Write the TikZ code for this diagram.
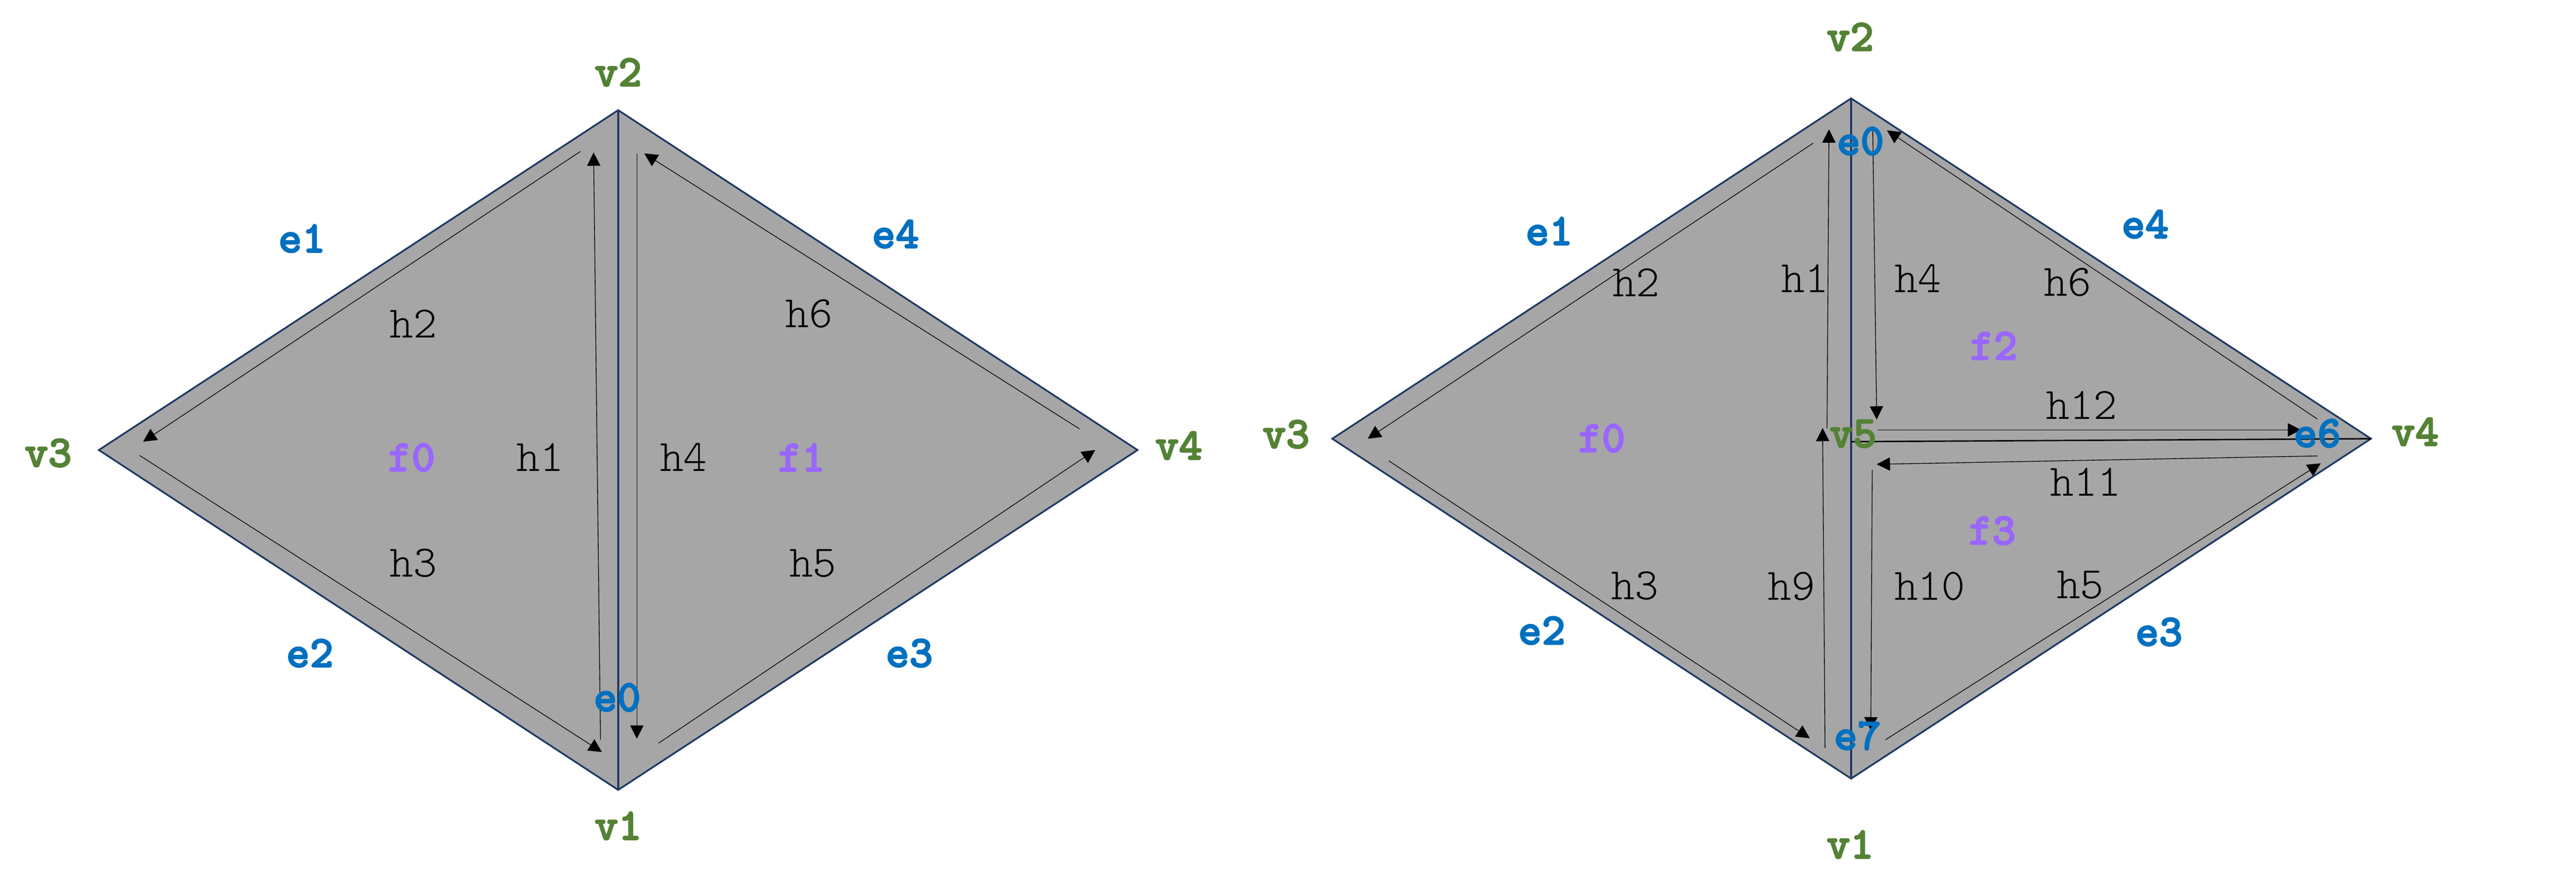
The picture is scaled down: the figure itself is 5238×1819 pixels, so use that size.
\documentclass[tikz,border=0pt]{standalone}
\usepackage{fontspec}
\usepackage{xcolor}
\usepackage{tikz}
\usetikzlibrary{arrows.meta}
\newfontfamily\hfont{lmmonolt10-regular.otf}
\newfontfamily\labfont{lmmonolt10-bold.otf}[FakeBold = 2.5]

\definecolor{vgreen}{HTML}{548235}
\definecolor{eblue}{HTML}{0070C0}
\definecolor{fpurple}{HTML}{9966FF}
\definecolor{facegray}{HTML}{A6A6A6}
\definecolor{edgenavy}{HTML}{1F3864}

\begin{document}
\begin{tikzpicture}[
  x = 0.01cm, y = -0.01cm,
  every node/.style = {inner sep = 0pt, font = \hfont\fontsize{26}{26}\selectfont},
  vlab/.style = {text = vgreen, font = \labfont\fontsize{26}{26}\selectfont},
  elab/.style = {text = eblue, font = \labfont\fontsize{26}{26}\selectfont},
  flab/.style = {text = fpurple, font = \labfont\fontsize{26}{26}\selectfont},
  hlab/.style = {text = black},
  face/.style = {fill = facegray, draw = edgenavy, line width = 1pt},
  edge/.style = {draw = edgenavy, line width = 1pt},
  half/.style = {draw = black, line width = 0.4pt,
                 -{Triangle[width = 0.27cm, length = 0.27cm]}}
  ]
  \useasboundingbox (0,0) rectangle (5238,1819);

  % left mesh
  \coordinate (L1) at (1257,1606);
  \coordinate (L2) at (1257,224);
  \coordinate (L3) at (201,915);
  \coordinate (L4) at (2313,915);
  \path[face] (L2) -- (L3) -- (L1) -- (L4) -- cycle;
  \draw[edge] (L2) -- (L1);

  \coordinate (Lh1a) at (1221,1504); \coordinate (Lh1b) at (1207,310);
  \coordinate (Lh4a) at (1295,312);  \coordinate (Lh4b) at (1295,1502);
  \coordinate (Lh2a) at (1180,308);  \coordinate (Lh2b) at (291,898);
  \coordinate (Lh3a) at (284,926);   \coordinate (Lh3b) at (1224,1529);
  \coordinate (Lh5a) at (1339,1511); \coordinate (Lh5b) at (2227,915);
  \coordinate (Lh6a) at (2195,872);  \coordinate (Lh6b) at (1310,312);
  \foreach \h in {1,2,3,4,5,6}
    \draw[half] (Lh\h a) -- (Lh\h b);

  \node[vlab] (lv1) at (1257,1679) {v1};
  \node[vlab] (lv2) at (1257,147) {v2};
  \node[vlab] (lv3) at (98,921) {v3};
  \node[vlab] (lv4) at (2397,906) {v4};
  \node[elab] (le0) at (1255,1418) {e0};
  \node[elab] (le1) at (614,485) {e1};
  \node[elab] (le2) at (630,1328) {e2};
  \node[elab] (le3) at (1849,1328) {e3};
  \node[elab] (le4) at (1821,476) {e4};
  \node[flab] (lf0) at (837,930) {f0};
  \node[flab] (lf1) at (1630,930) {f1};
  \node[hlab] (lh1) at (1098,930) {h1};
  \node[hlab] (lh2) at (841,658) {h2};
  \node[hlab] (lh3) at (841,1145) {h3};
  \node[hlab] (lh4) at (1390,930) {h4};
  \node[hlab] (lh5) at (1653,1145) {h5};
  \node[hlab] (lh6) at (1645,638) {h6};

  % right mesh, split
  \coordinate (R1) at (3764,1583);
  \coordinate (R2) at (3764,200);
  \coordinate (R3) at (2709,892);
  \coordinate (R4) at (4821,892);
  \coordinate (R5) at (3764,898);
  \path[face] (R2) -- (R3) -- (R1) -- (R4) -- cycle;
  \draw[edge] (R2) -- (R1);
  \draw[line width = 0.8pt] (R5) -- (R4);

  \coordinate (Rh1a) at (3715,871);  \coordinate (Rh1b) at (3719,263);
  \coordinate (Rh2a) at (3687,291);  \coordinate (Rh2b) at (2781,892);
  \coordinate (Rh3a) at (2824,937);  \coordinate (Rh3b) at (3680,1501);
  \coordinate (Rh4a) at (3808,265);  \coordinate (Rh4b) at (3816,853);
  \coordinate (Rh5a) at (3834,1504); \coordinate (Rh5b) at (4719,942);
  \coordinate (Rh6a) at (4712,852);  \coordinate (Rh6b) at (3837,265);
  \coordinate (Rh9a) at (3711,1521); \coordinate (Rh9b) at (3706,870);
  \coordinate (Rh10a) at (3807,955); \coordinate (Rh10b) at (3804,1485);
  \coordinate (Rh11a) at (4712,927); \coordinate (Rh11b) at (3816,944);
  \coordinate (Rh12a) at (3818,874); \coordinate (Rh12b) at (4679,874);
  \foreach \h in {1,2,3,4,5,6,9,10,11,12}
    \draw[half] (Rh\h a) -- (Rh\h b);

  \node[vlab] (rv1) at (3762,1717) {v1};
  \node[vlab] (rv2) at (3762,75) {v2};
  \node[vlab] (rv3) at (2615,883) {v3};
  \node[vlab] (rv4) at (4911,878) {v4};
  \node[vlab] (rv5) at (3768,882) {v5};
  \node[elab] (re0) at (3783,287) {e0};
  \node[elab] (re1) at (3150,470) {e1};
  \node[elab] (re2) at (3135,1282) {e2};
  \node[elab] (re3) at (4390,1285) {e3};
  \node[elab] (re4) at (4362,456) {e4};
  \node[elab] (re6) at (4712,881) {e6};
  \node[elab] (re7) at (3777,1496) {e7};
  \node[flab] (rf0) at (3257,891) {f0};
  \node[flab] (rf2) at (4054,703) {f2};
  \node[flab] (rf3) at (4051,1079) {f3};
  \node[hlab] (rh1) at (3670,566) {h1};
  \node[hlab] (rh2) at (3327,574) {h2};
  \node[hlab] (rh3) at (3324,1191) {h3};
  \node[hlab] (rh4) at (3900,566) {h4};
  \node[hlab] (rh5) at (4230,1189) {h5};
  \node[hlab] (rh6) at (4204,574) {h6};
  \node[hlab] (rh9) at (3643,1192) {h9};
  \node[hlab] (rh10) at (3924,1192) {h10};
  \node[hlab] (rh11) at (4241,980) {h11};
  \node[hlab] (rh12) at (4233,824) {h12};
\end{tikzpicture}
\end{document}
